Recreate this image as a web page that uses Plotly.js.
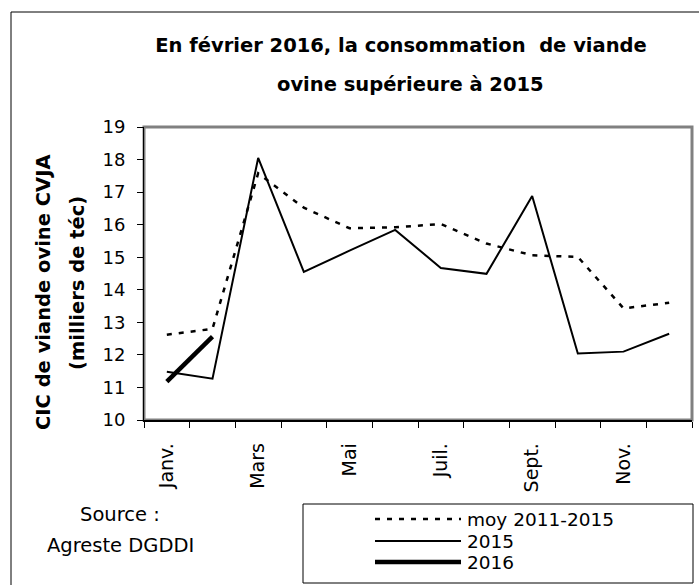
<!DOCTYPE html>
<html>
<head>
<meta charset="utf-8">
<script src="https://cdn.plot.ly/plotly-3.0.1.min.js"></script>
<style>html,body{margin:0;padding:0;background:#fff;}#chart{width:699px;height:585px;}</style>
</head>
<body>
<div id="chart"></div>
<script>
// ---- data ----
const months = ['Janv.','Févr.','Mars','Avr.','Mai','Juin','Juil.','Août','Sept.','Oct.','Nov.','Déc.'];
const shownMonths = ['Janv.','Mars','Mai','Juil.','Sept.','Nov.'];
const moy20112015 = [12.62, 12.80, 17.58, 16.52, 15.89, 15.92, 16.02, 15.42, 15.06, 15.01, 13.43, 13.60];
const v2015 = [11.48, 11.27, 18.05, 14.55, 15.20, 15.84, 14.67, 14.49, 16.88, 12.04, 12.10, 12.65];
const v2016 = [11.18, 12.56];
const seriesNames = ['moy 2011-2015', '2015', '2016'];
const titleLines = ['En février 2016, la consommation  de viande', 'ovine supérieure à 2015'];
const yTitleLines = ['CIC de viande ovine CVJA', '(milliers de téc)'];
const sourceLines = ['Source :', 'Agreste DGDDI'];

// ---- layout helpers (pixel -> paper) ----
const W = 699, H = 585;
const L = 144, R = 692, T = 127, B = 420;
const px = x => (x - L) / (R - L);
const py = y => (B - y) / (B - T);
const FONT = 'DejaVu Sans, Arial, sans-serif';

const idx = a => a.map((_, i) => i);
const styles = [
  {color: 'black', width: 2.5, dash: '5px,7px'},
  {color: 'black', width: 2, dash: 'solid'},
  {color: 'black', width: 4.5, dash: 'solid'}
];

const traces = [
  {x: idx(moy20112015), y: moy20112015, name: seriesNames[0], type: 'scatter', mode: 'lines', line: styles[0]},
  {x: idx(v2015), y: v2015, name: seriesNames[1], type: 'scatter', mode: 'lines', line: styles[1]},
  {x: idx(v2016), y: v2016, name: seriesNames[2], type: 'scatter', mode: 'lines', line: styles[2]}
];

const shapes = [
  // outer chart frame
  {type: 'rect', xref: 'paper', yref: 'paper', x0: px(11), x1: px(710), y0: py(600), y1: py(12),
   line: {color: 'black', width: 1}, fillcolor: 'rgba(0,0,0,0)', layer: 'below'},
  // plot area frame (grey)
  {type: 'rect', xref: 'paper', yref: 'paper', x0: 0, x1: 1, y0: 0, y1: 1,
   line: {color: '#808080', width: 3}, fillcolor: 'rgba(0,0,0,0)', layer: 'below'},
  // legend box
  {type: 'rect', xref: 'paper', yref: 'paper', x0: px(303), x1: px(693), y0: py(583), y1: py(504),
   line: {color: 'black', width: 1}, fillcolor: 'white'}
];
const legendRows = [519, 541, 562];
const annotations = [];
seriesNames.forEach((n, i) => {
  shapes.push({type: 'line', xref: 'paper', yref: 'paper', x0: px(375), x1: px(461),
    y0: py(legendRows[i]), y1: py(legendRows[i]), line: styles[i]});
  annotations.push({xref: 'paper', yref: 'paper', x: px(465), y: py(legendRows[i]), xanchor: 'left', yanchor: 'middle',
    text: n, showarrow: false, font: {family: FONT, size: 18.5, color: 'black'}});
});
// second title line
annotations.push({xref: 'paper', yref: 'paper', x: px(410), y: py(84), xanchor: 'center', yanchor: 'middle',
  text: '<b>' + titleLines[1] + '</b>', showarrow: false, font: {family: FONT, size: 19.5, color: 'black'}});
// y-axis title (two lines)
annotations.push({xref: 'paper', yref: 'paper', x: px(43), y: py(292), xanchor: 'center', yanchor: 'middle', textangle: -90,
  text: '<b>' + yTitleLines[0] + '</b>', showarrow: false, font: {family: FONT, size: 19.5, color: 'black'}});
annotations.push({xref: 'paper', yref: 'paper', x: px(77), y: py(283), xanchor: 'center', yanchor: 'middle', textangle: -90,
  text: '<b>' + yTitleLines[1] + '</b>', showarrow: false, font: {family: FONT, size: 19.5, color: 'black'}});
// source
annotations.push({xref: 'paper', yref: 'paper', x: px(120), y: py(514), xanchor: 'center', yanchor: 'middle',
  text: sourceLines[0], showarrow: false, font: {family: FONT, size: 19.5, color: 'black'}});
annotations.push({xref: 'paper', yref: 'paper', x: px(120), y: py(545), xanchor: 'center', yanchor: 'middle',
  text: sourceLines[1], showarrow: false, font: {family: FONT, size: 19.5, color: 'black'}});

const layout = {
  width: W, height: H,
  margin: {l: L, r: W - R, t: T, b: H - B, pad: 0},
  paper_bgcolor: 'white', plot_bgcolor: 'white',
  showlegend: false,
  font: {family: FONT, color: 'black'},
  title: {text: '<b>' + titleLines[0] + '</b>', font: {family: FONT, size: 19.5, color: 'black'},
    xref: 'paper', x: px(401), xanchor: 'center', yref: 'container', y: 1 - 45 / H, yanchor: 'middle'},
  xaxis: {
    range: [-0.5, months.length - 0.5], showgrid: false, zeroline: false,
    showline: true, linecolor: 'black', linewidth: 1.5, mirror: false,
    tickmode: 'array', tickvals: shownMonths.map(m => months.indexOf(m)), ticktext: shownMonths,
    ticks: '', tickangle: -90, ticklabelstandoff: 14,
    tickfont: {family: FONT, size: 19, color: 'black'},
    minor: {tickmode: 'linear', tick0: -0.5, dtick: 1, ticks: 'outside', ticklen: 6, tickwidth: 1, tickcolor: 'black', showgrid: false}
  },
  yaxis: {
    range: [10, 19], dtick: 1, showgrid: false, zeroline: false,
    showline: true, linecolor: 'black', linewidth: 1, mirror: false,
    ticks: 'outside', ticklen: 6, tickwidth: 1, tickcolor: 'black', ticklabelstandoff: 8,
    tickfont: {family: FONT, size: 18, color: 'black'}
  },
  shapes: shapes,
  annotations: annotations
};

Plotly.newPlot('chart', traces, layout, {staticPlot: true, displayModeBar: false});
</script>
</body>
</html>
